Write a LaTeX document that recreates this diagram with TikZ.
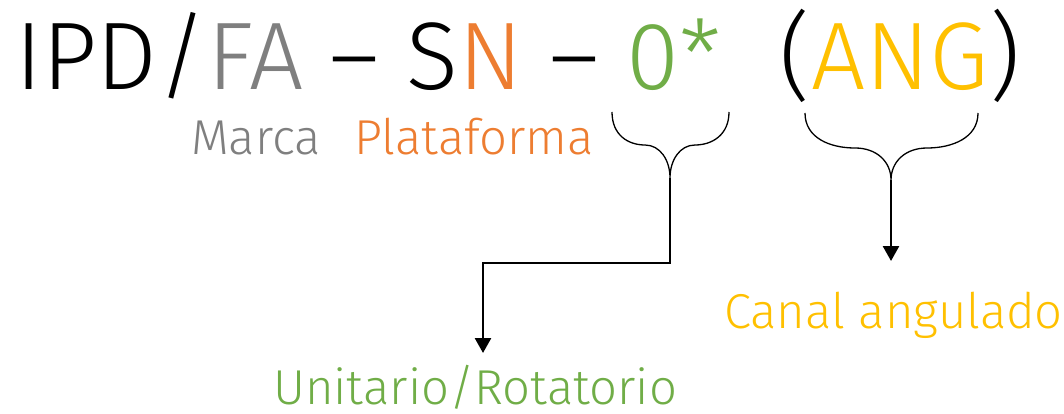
\documentclass[tikz,border=0pt]{standalone}
\usepackage{fontspec}
\setmainfont{Fira Sans}[UprightFont=* Light]
\usetikzlibrary{arrows.meta}
\definecolor{cgray}{HTML}{7F7F7F}
\definecolor{corange}{HTML}{ED7D31}
\definecolor{cgreen}{HTML}{70AD47}
\definecolor{cyellow}{HTML}{FFC000}
\tikzset{
  code/.style={font=\fontsize{96}{110}\selectfont, inner sep=0pt, anchor=base west},
  part/.style={font=\fontsize{49}{58}\selectfont, inner sep=0pt, anchor=base west},
  brace/.style={line width=1.3pt},
  lead/.style={line width=2.6pt, -{Triangle[width=16pt,length=15pt]}},
}
\begin{document}
\begin{tikzpicture}[x=1pt,y=-1pt]
\useasboundingbox (0,0) rectangle (1064,414);
% product code
\node[code] (code) at (15,90) {IPD/\textcolor{cgray}{FA} – S\textcolor{corange}{N} – \textcolor{cgreen}{0*}\hspace{32pt} (\textcolor{cyellow}{ANG})};
% field names
\node[part, text=cgray] (marca) at (191,155) {Marca};
\node[part, text=corange] (plat) at (354,155) {Plataforma};
\node[part, text=cyellow] (canal) at (724,328) {Canal angulado};
\node[part, text=cgreen] (unit) at (273,404) {Unitario/Rotatorio};
% braces under the code fields
\coordinate (tipA) at (670,178);
\coordinate (tipB) at (891,180);
\draw[brace] (612,112) .. controls (612,135) and (628,145) .. (645,145)
  .. controls (660,145) and (670,160) .. (tipA)
  .. controls (670,160) and (680,145) .. (695,145)
  .. controls (712,145) and (729,135) .. (729,112);
\draw[brace] (805,113) .. controls (805,138) and (830,148) .. (855,148)
  .. controls (877,148) and (891,162) .. (tipB)
  .. controls (891,162) and (905,148) .. (927,148)
  .. controls (952,148) and (978,138) .. (978,113);
% connectors
\coordinate (endA) at (483,353);
\coordinate (endB) at (891,261);
\draw[lead] (tipA) -- (670,263) -| (endA);
\draw[lead] (tipB) -- (endB);
\end{tikzpicture}
\end{document}
